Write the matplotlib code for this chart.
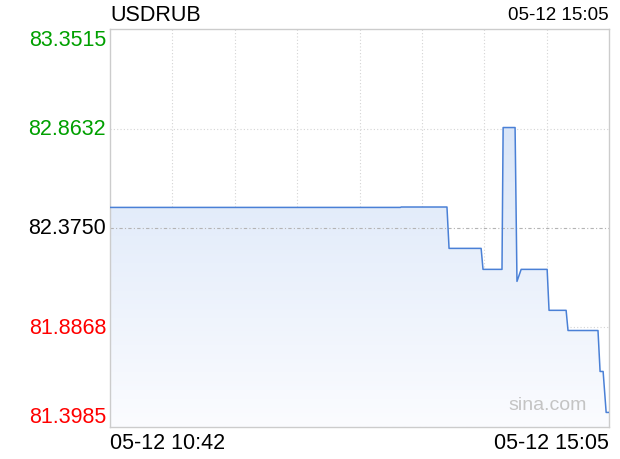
import matplotlib
matplotlib.use('Agg')
import matplotlib.pyplot as plt
import numpy as np

plt.rcParams['font.family'] = ['Liberation Sans', 'DejaVu Sans']

# minutes after 10:42 and USDRUB quotes
minutes = [0, 153, 153.5, 177.6, 178.7, 195.6, 196.6, 206.6, 207.2, 213.5, 214.5,
           216.7, 230.4, 231.4, 240.4, 241.4, 257.2, 258.3, 259.9, 261.5, 263]
prices = [82.476, 82.476, 82.478, 82.478, 82.275, 82.275, 82.172, 82.172, 82.868,
          82.868, 82.113, 82.172, 82.172, 81.971, 81.971, 81.872, 81.872, 81.671,
          81.671, 81.470, 81.470]
prev_close = 82.3750
y_ticks = [81.3985, 81.8868, 82.3750, 82.8632, 83.3515]
y_colors = ['#ff0000', '#ff0000', '#000000', '#00a000', '#00a000']
x_labels = ['05-12 10:42', '05-12 15:05']
symbol = 'USDRUB'

fig = plt.figure(figsize=(6.2, 4.6), dpi=100)
ax = fig.add_axes([110 / 620, 1 - 428 / 460, 499 / 620, 398 / 460])
total = minutes[-1]
ax.set_xlim(0, total)
ax.set_ylim(y_ticks[0], y_ticks[-1])

# gradient fill under the line
fill = ax.fill_between(minutes, prices, y_ticks[0], color='none', lw=0)
grad = np.linspace(0, 1, 256).reshape(-1, 1)
cmap = matplotlib.colors.LinearSegmentedColormap.from_list('g', ['#fbfcff', '#dae6f8'])
img = ax.imshow(grad, cmap=cmap, aspect='auto', origin='lower',
                extent=[0, total, y_ticks[0], max(prices)], zorder=1)
path = fill.get_paths()[0]
img.set_clip_path(path, transform=ax.transData)
ax.plot(minutes, prices, color='#4a80d6', lw=1.1, zorder=3)

# grid
for k in range(1, 8):
    ax.axvline(total * k / 8, color='#d4d4d4', lw=0.8, ls=(0, (1, 2)), zorder=0)
for v in [y_ticks[1], y_ticks[3]]:
    ax.axhline(v, color='#d4d4d4', lw=0.8, ls=(0, (1, 2)), zorder=0)
ax.axhline(prev_close, color='#b4b4b4', lw=0.8, ls=(0, (3, 2, 1, 2)), zorder=2)

for s in ax.spines.values():
    s.set_color('#cccccc')
    s.set_linewidth(1)
ax.set_xticks([])
ax.set_yticks([])

# price labels: top one hangs below the top edge, bottom one sits above the bottom edge
n = len(y_ticks)
for i, (v, c) in enumerate(zip(y_ticks, y_colors)):
    va = 'bottom' if i == 0 else ('top' if i == n - 1 else 'center')
    ax.text(-0.008, (v - y_ticks[0]) / (y_ticks[-1] - y_ticks[0]), f'{v:.4f}',
            transform=ax.transAxes, ha='right', va=va, color=c, fontsize=15.5)

ax.text(0, -0.04, x_labels[0], transform=ax.transAxes, ha='left', va='center', fontsize=15.5)
ax.text(1, -0.04, x_labels[1], transform=ax.transAxes, ha='right', va='center', fontsize=15.5)
ax.text(0, 1.037, symbol, transform=ax.transAxes, ha='left', va='center', fontsize=15.5)
ax.text(1, 1.037, x_labels[1], transform=ax.transAxes, ha='right', va='center', fontsize=13.5)
ax.text(0.955, 0.035, 'sina.com', transform=ax.transAxes, ha='right', va='bottom',
        color='#c4c4c4', fontsize=14)

fig.savefig('out.png', dpi=100)
